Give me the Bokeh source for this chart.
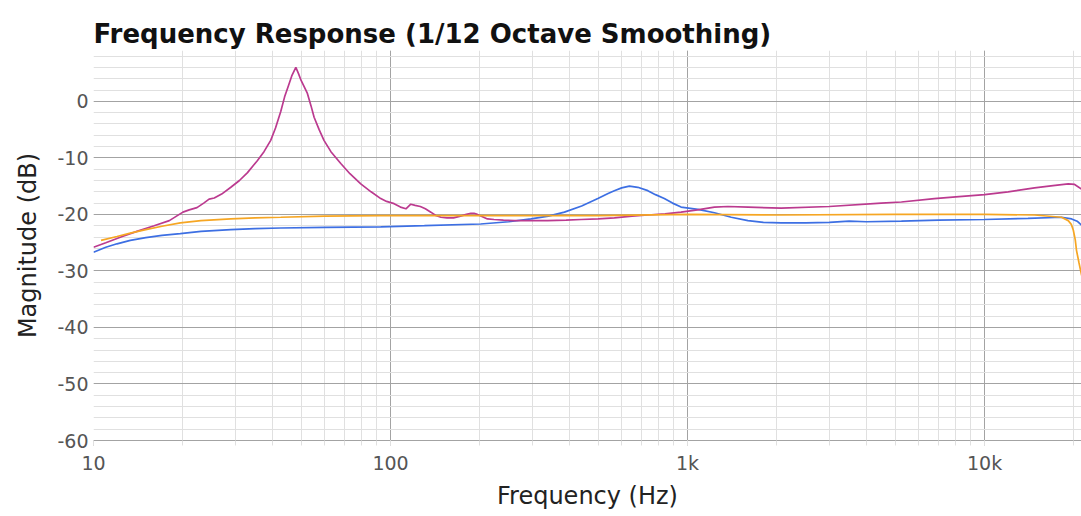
from bokeh.plotting import figure
from bokeh.models import LogTicker, SingleIntervalTicker, Range1d
from bokeh.embed import file_html
from bokeh.resources import INLINE

# Measured responses, 1/12-octave smoothed (frequency in Hz, magnitude in dB)
magenta_freq = [10, 11, 12.5, 14, 16, 18, 20, 21, 22.3, 23.5, 24.5, 25.5, 27, 29, 31, 33,
                35.6, 37.5, 39.5, 41, 42.7, 44, 45.2, 46.5, 48, 49, 50, 51, 52.5, 54, 55.3,
                57.5, 59.7, 63, 68, 73, 79.4, 86, 92.7, 97, 102.8, 108, 112.7, 117, 121, 126,
                131, 136.7, 142, 147.8, 155, 163, 172, 180, 186.5, 191, 196, 204, 212, 223,
                240, 261, 300, 338, 390, 438, 500, 567, 650, 735, 840, 951, 1080, 1232, 1367,
                1600, 2066, 3000, 4487, 5248, 6776, 8000, 10000, 12000, 14730, 17000, 19130,
                20100, 21200]
magenta_db = [-25.8, -25.0, -23.9, -23.0, -22.0, -21.1, -19.6, -19.2, -18.8, -18.0, -17.3,
              -17.1, -16.4, -15.2, -14.0, -12.6, -10.5, -8.9, -6.9, -4.7, -1.8, 0.8, 2.6, 4.5,
              6.0, 4.9, 3.7, 2.8, 1.4, -0.8, -2.8, -5.0, -6.9, -8.9, -11.0, -12.8, -14.6,
              -16.0, -17.2, -17.7, -18.1, -18.7, -19.0, -18.2, -18.4, -18.6, -19.0, -19.6,
              -20.2, -20.5, -20.6, -20.6, -20.3, -20.0, -19.8, -19.8, -20.0, -20.4, -20.8,
              -20.9, -21.0, -21.1, -21.1, -21.1, -21.0, -20.9, -20.8, -20.6, -20.3, -20.1,
              -19.9, -19.6, -19.2, -18.7, -18.6, -18.7, -18.9, -18.6, -18.0, -17.8, -17.2,
              -16.9, -16.5, -16.0, -15.3, -14.9, -14.6, -14.7, -15.5]

blue_freq = [10, 11, 12, 13.3, 15, 17, 19.6, 23, 29, 35, 42.7, 60, 92.7, 130, 201, 250, 297,
             340, 385, 440, 499, 540, 567, 600, 637, 680, 735, 780, 835, 890, 951, 1083,
             1232, 1403, 1597, 1800, 2066, 2500, 3000, 3500, 4000, 5248, 7000, 10000, 14000,
             18150, 19640, 20500, 21200]
blue_db = [-26.7, -25.8, -25.2, -24.6, -24.1, -23.7, -23.4, -23.0, -22.7, -22.5, -22.4, -22.3,
           -22.2, -22.0, -21.7, -21.3, -20.8, -20.3, -19.6, -18.5, -17.2, -16.3, -15.8, -15.3,
           -15.0, -15.2, -15.8, -16.5, -17.2, -18.0, -18.7, -19.1, -19.7, -20.5, -21.1, -21.4,
           -21.5, -21.5, -21.4, -21.2, -21.3, -21.2, -21.0, -20.9, -20.7, -20.5, -20.8, -21.2,
           -21.9]

orange_freq = [10.6, 12, 13.3, 15, 17, 19.6, 23, 29, 35, 42.7, 60, 92.7, 200, 500, 1000, 2000,
               5000, 10000, 14730, 18150, 19130, 19600, 19900, 20200, 20400, 20800, 21230]
orange_db = [-24.6, -23.9, -23.3, -22.7, -22.1, -21.5, -21.1, -20.8, -20.6, -20.5, -20.3, -20.2,
             -20.2, -20.2, -20.0, -20.1, -20.0, -20.0, -20.1, -20.5, -21.1, -21.8, -22.8, -24.5,
             -26.4, -28.6, -30.8]

x_tick_labels = {10: "10", 100: "100", 1000: "1k", 10000: "10k"}
y_tick_labels = {v: str(v) for v in range(-60, 10, 10)}

FONT = "DejaVu Sans"
MAJOR = "#a3a3a3"
MINOR = "#e0e0e0"

p = figure(width=1081, height=516, x_axis_type="log",
           x_range=Range1d(10, 21200), y_range=Range1d(-60, 9),
           output_backend="svg", toolbar_location=None,
           min_border_left=93, min_border_right=0, min_border_top=50, min_border_bottom=76)

p.outline_line_color = None
p.background_fill_color = "white"
p.border_fill_color = "white"

p.title.text = "Frequency Response (1/12 Octave Smoothing)"
p.title.text_font = FONT
p.title.text_font_size = "26px"
p.title.text_font_style = "bold"
p.title.text_color = "#111111"
p.title.align = "left"
p.title.standoff = 3

p.xaxis.ticker = LogTicker(num_minor_ticks=10)
p.yaxis.ticker = SingleIntervalTicker(interval=10, num_minor_ticks=5)

for g in (p.xgrid, p.ygrid):
    g.grid_line_color = MAJOR
    g.grid_line_width = 1
    g.minor_grid_line_color = MINOR
    g.minor_grid_line_width = 1

xa = p.xaxis[0]
xa.major_label_overrides = x_tick_labels
xa.axis_line_color = MAJOR
xa.major_tick_line_color = MAJOR
xa.minor_tick_line_color = MINOR
xa.major_tick_in = 0
xa.major_tick_out = 5
xa.minor_tick_in = 0
xa.minor_tick_out = 5
xa.major_label_standoff = 6
xa.major_label_text_font = FONT
xa.major_label_text_font_size = "19px"
xa.major_label_text_color = "#555555"
xa.axis_label = "Frequency (Hz)"
xa.axis_label_text_font = FONT
xa.axis_label_text_font_size = "24px"
xa.axis_label_text_font_style = "normal"
xa.axis_label_text_color = "#222222"
xa.axis_label_standoff = 5

ya = p.yaxis[0]
ya.major_label_overrides = y_tick_labels
ya.axis_line_color = None
ya.major_tick_line_color = None
ya.minor_tick_line_color = None
ya.major_tick_in = 0
ya.major_tick_out = 0
ya.minor_tick_in = 0
ya.minor_tick_out = 0
ya.major_label_standoff = 5
ya.major_label_text_font = FONT
ya.major_label_text_font_size = "19px"
ya.major_label_text_color = "#555555"
ya.axis_label = "Magnitude (dB)"
ya.axis_label_text_font = FONT
ya.axis_label_text_font_size = "24px"
ya.axis_label_text_font_style = "normal"
ya.axis_label_text_color = "#222222"
ya.axis_label_standoff = 12

p.line(blue_freq, blue_db, line_color="#3d6fe3", line_width=1.7)
p.line(magenta_freq, magenta_db, line_color="#bb3a8f", line_width=1.7)
p.line(orange_freq, orange_db, line_color="#f6a623", line_width=1.7)

open("out.html", "w").write(file_html(p, INLINE))
